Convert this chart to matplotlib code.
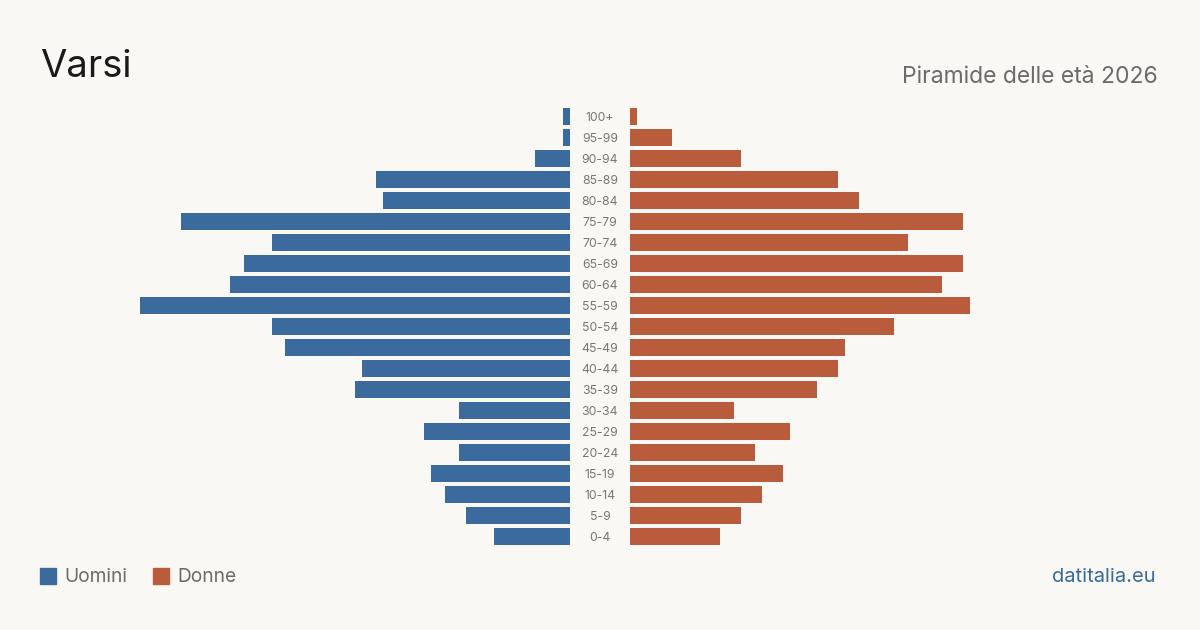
import matplotlib.pyplot as plt

plt.rcParams['font.family'] = ['Inter', 'DejaVu Sans']

# age classes, bottom to top
age_groups = ['0-4', '5-9', '10-14', '15-19', '20-24', '25-29', '30-34', '35-39',
              '40-44', '45-49', '50-54', '55-59', '60-64', '65-69', '70-74',
              '75-79', '80-84', '85-89', '90-94', '95-99', '100+']
men = [11, 15, 18, 20, 16, 21, 16, 31, 30, 41, 43, 62, 49, 47, 43, 56, 27, 28, 5, 1, 1]
women = [13, 16, 19, 22, 18, 23, 15, 27, 30, 31, 38, 49, 45, 48, 40, 48, 33, 30, 16, 6, 1]

BG = '#f9f8f4'
BLUE = '#3a6b9c'
ORANGE = '#b85c3c'
W, H = 1200, 630
PX_PER_UNIT = 6.94  # pixel length of one person

fig = plt.figure(figsize=(12, 6.3), dpi=100, facecolor=BG)

bottom = (H - 547) / H
height = 441 / H
ax_l = fig.add_axes([0, bottom, 570 / W, height])
ax_r = fig.add_axes([630 / W, bottom, 570 / W, height])

y = list(range(len(age_groups)))
ax_l.barh(y, men, height=0.8, color=BLUE)
ax_r.barh(y, women, height=0.8, color=ORANGE)
ax_l.set_xlim(570 / PX_PER_UNIT, 0)
ax_r.set_xlim(0, 570 / PX_PER_UNIT)

for ax in (ax_l, ax_r):
    ax.set_ylim(-0.5, len(age_groups) - 0.5)
    ax.axis('off')

for i, lab in enumerate(age_groups):
    yy = bottom + height * (i + 0.5) / len(age_groups) - 1.5 / H
    fig.text(600 / W, yy, lab, ha='center', va='center', fontsize=8.8, color='#777777')

fig.text(40 / W, 1 - 67 / H, 'Varsi', fontsize=27.5, color='#1a1a1a', va='center', ha='left')
fig.text(1158 / W, 1 - 77 / H, 'Piramide delle età 2026', fontsize=16.5, color='#6b6b6b',
         va='center', ha='right')

# legend
fig.patches.append(plt.Rectangle((40 / W, 1 - 584 / H), 16 / W, 16 / H,
                                 transform=fig.transFigure, color=BLUE))
fig.text(64 / W, 1 - 577 / H, 'Uomini', fontsize=13.8, color='#6b6b6b', va='center')
fig.patches.append(plt.Rectangle((153 / W, 1 - 584 / H), 16 / W, 16 / H,
                                 transform=fig.transFigure, color=ORANGE))
fig.text(177 / W, 1 - 577 / H, 'Donne', fontsize=13.8, color='#6b6b6b', va='center')

fig.text(1156 / W, 1 - 577 / H, 'datitalia.eu', fontsize=14.5, color=BLUE, va='center', ha='right')

fig.savefig('out.png', dpi=100, facecolor=BG)
